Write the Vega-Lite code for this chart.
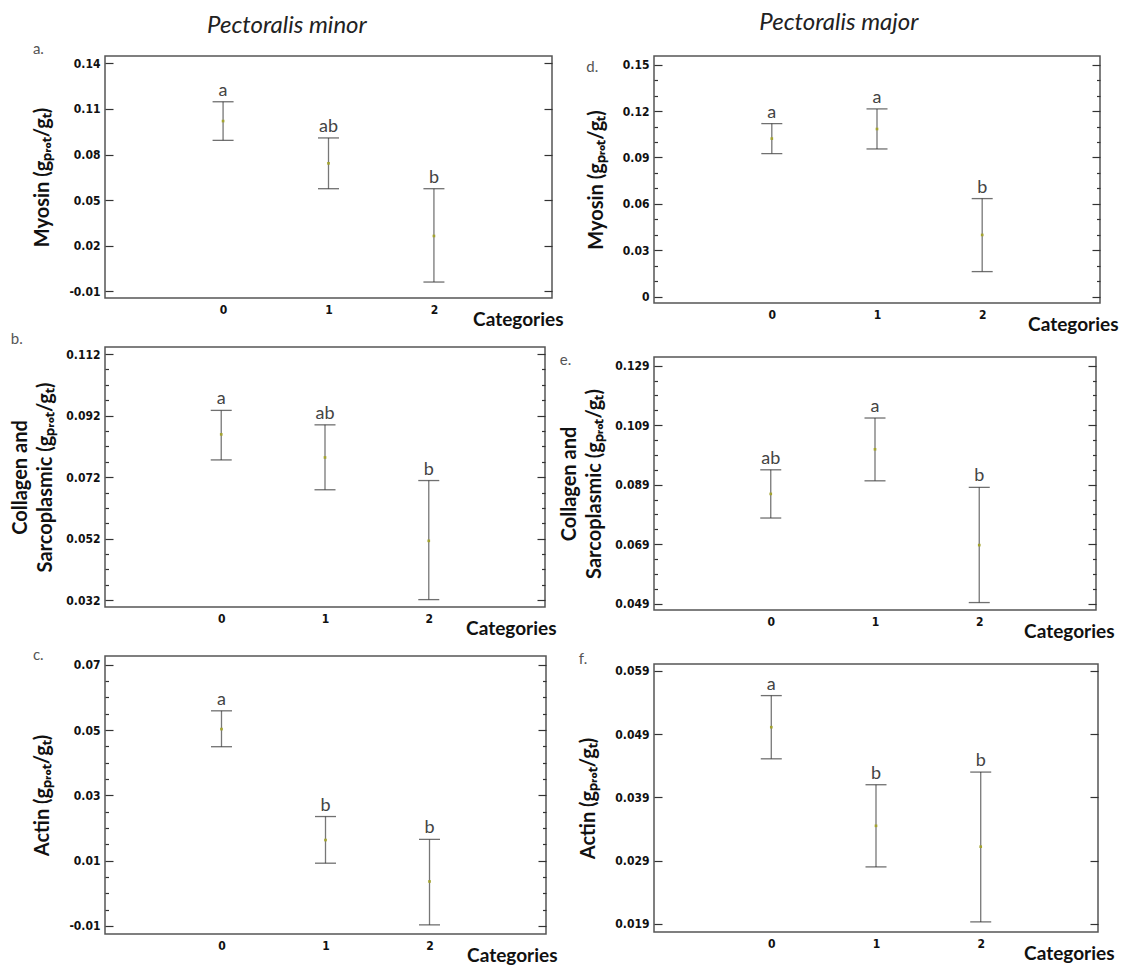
{
  "$schema": "https://vega.github.io/schema/vega-lite/v6.json",
  "background": "white",
  "padding": {"left": 10, "top": 11, "right": 5, "bottom": 5},
  "config": {
    "view": {"stroke": "#555", "strokeWidth": 1.5},
    "axis": {"grid": false, "domain": false}
  },
  "datasets": {
    "pts": [
      {"panel": "a", "cat": 0, "mean": 0.102, "lo": 0.0893, "hi": 0.1147, "letter": "a"},
      {"panel": "a", "cat": 1, "mean": 0.0742, "lo": 0.0575, "hi": 0.0909, "letter": "ab"},
      {"panel": "a", "cat": 2, "mean": 0.0264, "lo": -0.0039, "hi": 0.0575, "letter": "b"},
      {"panel": "b", "cat": 0, "mean": 0.0859, "lo": 0.0776, "hi": 0.0937, "letter": "a"},
      {"panel": "b", "cat": 1, "mean": 0.0784, "lo": 0.0679, "hi": 0.089, "letter": "ab"},
      {"panel": "b", "cat": 2, "mean": 0.0513, "lo": 0.0322, "hi": 0.0709, "letter": "b"},
      {"panel": "c", "cat": 0, "mean": 0.0503, "lo": 0.0449, "hi": 0.0559, "letter": "a"},
      {"panel": "c", "cat": 1, "mean": 0.0163, "lo": 0.0092, "hi": 0.0235, "letter": "b"},
      {"panel": "c", "cat": 2, "mean": 0.0036, "lo": -0.0097, "hi": 0.0165, "letter": "b"},
      {"panel": "d", "cat": 0, "mean": 0.1022, "lo": 0.0925, "hi": 0.1119, "letter": "a"},
      {"panel": "d", "cat": 1, "mean": 0.1084, "lo": 0.0955, "hi": 0.1214, "letter": "a"},
      {"panel": "d", "cat": 2, "mean": 0.0399, "lo": 0.0162, "hi": 0.0634, "letter": "b"},
      {"panel": "e", "cat": 0, "mean": 0.0859, "lo": 0.0778, "hi": 0.094, "letter": "ab"},
      {"panel": "e", "cat": 1, "mean": 0.1009, "lo": 0.0903, "hi": 0.1114, "letter": "a"},
      {"panel": "e", "cat": 2, "mean": 0.0687, "lo": 0.0494, "hi": 0.0881, "letter": "b"},
      {"panel": "f", "cat": 0, "mean": 0.0501, "lo": 0.0451, "hi": 0.0551, "letter": "a"},
      {"panel": "f", "cat": 1, "mean": 0.0345, "lo": 0.028, "hi": 0.041, "letter": "b"},
      {"panel": "f", "cat": 2, "mean": 0.0312, "lo": 0.0193, "hi": 0.043, "letter": "b"}
    ]
  },
  "spacing": -5,
  "hconcat": [
    {
      "title": {"text": "Pectoralis minor", "font": "Lato", "fontSize": 24, "fontStyle": "italic", "fontWeight": "normal", "color": "#222", "anchor": "middle", "frame": "bounds", "offset": 3},
      "bounds": "flush",
      "spacing": 49,
      "vconcat": [
        {
          "width": 447, "height": 242,
          "title": {"text": "a.", "font": "Lato", "fontSize": 15, "fontWeight": "normal", "color": "#555", "anchor": "start", "frame": "bounds", "offset": -1},
          "data": {"name": "pts"},
          "transform": [{"filter": "datum.panel === 'a'"}],
          "encoding": {"x": {"field": "cat", "type": "quantitative", "scale": {"domain": [-1.12, 3.12], "nice": false, "zero": false},
            "axis": {"values": [0, 1, 2], "format": "d", "ticks": false, "labelFont": "Liberation Sans Narrow, DejaVu Sans Condensed", "labelFontWeight": "bold", "labelFontSize": 12, "labelColor": "#111", "labelPadding": 6, "title": "Categories", "titleFont": "Lato", "titleFontSize": 19, "titleFontWeight": "bold", "titleColor": "#111", "titleAlign": "right", "titleBaseline": "alphabetic", "titleX": 458, "titleY": 27}}},
          "layer": [
            {"mark": {"type": "rule", "color": "#777", "strokeWidth": 1.3},
             "encoding": {"y": {"field": "lo", "type": "quantitative", "scale": {"domain": [-0.0144, 0.1448], "nice": false, "zero": false},
               "axis": {"orient": "left", "values": [-0.01, 0.02, 0.05, 0.08, 0.11, 0.14], "labelExpr": "datum.value < 0 ? '-' + format(-datum.value, '.2f') : format(datum.value, '.2f')", "ticks": false, "labelFont": "Liberation Sans Narrow, DejaVu Sans Condensed", "labelFontWeight": "bold", "labelFontSize": 12, "labelColor": "#111", "labelPadding": 5, "title": "Myosin (gₚᵣₒₜ/gₜ)", "titleFont": "Lato", "titleFontSize": 20, "titleFontWeight": "bold", "titleColor": "#111", "titlePadding": 16}},
               "y2": {"field": "hi"}}},
            {"mark": {"type": "tick", "orient": "horizontal", "size": 21, "thickness": 1.3, "color": "#333"},
             "encoding": {"y": {"field": "lo", "type": "quantitative", "scale": {"domain": [-0.0144, 0.1448], "nice": false, "zero": false},
               "axis": {"orient": "left", "values": [-0.01, 0.02, 0.05, 0.08, 0.11, 0.14], "labels": false, "ticks": true, "tickSize": 8, "tickColor": "#333", "tickWidth": 1.2, "offset": -8, "title": null}}}},
            {"mark": {"type": "tick", "orient": "horizontal", "size": 21, "thickness": 1.3, "color": "#333"},
             "encoding": {"y": {"field": "hi", "type": "quantitative", "scale": {"domain": [-0.0144, 0.1448], "nice": false, "zero": false},
               "axis": {"orient": "right", "values": [-0.01, 0.02, 0.05, 0.08, 0.11, 0.14], "labels": false, "ticks": true, "tickSize": 8, "tickColor": "#333", "tickWidth": 1.2, "offset": -8, "title": null}}}},
            {"mark": {"type": "point", "filled": true, "shape": "square", "size": 7, "color": "#a3a32e", "opacity": 1},
             "encoding": {"y": {"field": "mean", "type": "quantitative", "scale": {"domain": [-0.0144, 0.1448], "nice": false, "zero": false}, "axis": null}}},
            {"mark": {"type": "text", "font": "Lato", "fontSize": 18, "color": "#444", "baseline": "alphabetic", "dy": -6},
             "encoding": {"y": {"field": "hi", "type": "quantitative", "scale": {"domain": [-0.0144, 0.1448], "nice": false, "zero": false}, "axis": null}, "text": {"field": "letter"}}}
          ],
          "resolve": {"axis": {"y": "independent"}}
        },
        {
          "width": 440, "height": 260,
          "title": {"text": "b.", "font": "Lato", "fontSize": 15, "fontWeight": "normal", "color": "#555", "anchor": "start", "frame": "bounds", "offset": 0},
          "data": {"name": "pts"},
          "transform": [{"filter": "datum.panel === 'b'"}],
          "encoding": {"x": {"field": "cat", "type": "quantitative", "scale": {"domain": [-1.12, 3.12], "nice": false, "zero": false},
            "axis": {"values": [0, 1, 2], "format": "d", "ticks": false, "labelFont": "Liberation Sans Narrow, DejaVu Sans Condensed", "labelFontWeight": "bold", "labelFontSize": 12, "labelColor": "#111", "labelPadding": 6, "title": "Categories", "titleFont": "Lato", "titleFontSize": 19, "titleFontWeight": "bold", "titleColor": "#111", "titleAlign": "right", "titleBaseline": "alphabetic", "titleX": 451, "titleY": 27}}},
          "layer": [
            {"mark": {"type": "rule", "color": "#777", "strokeWidth": 1.3},
             "encoding": {"y": {"field": "lo", "type": "quantitative", "scale": {"domain": [0.0298, 0.1143], "nice": false, "zero": false},
               "axis": {"orient": "left", "values": [0.032, 0.052, 0.072, 0.092, 0.112], "format": ".3f", "ticks": false, "labelFont": "Liberation Sans Narrow, DejaVu Sans Condensed", "labelFontWeight": "bold", "labelFontSize": 12, "labelColor": "#111", "labelPadding": 5, "title": ["Collagen and", "Sarcoplasmic (gₚᵣₒₜ/gₜ)"], "titleLineHeight": 25, "titleFont": "Lato", "titleFontSize": 20, "titleFontWeight": "bold", "titleColor": "#111", "titlePadding": 10}},
               "y2": {"field": "hi"}}},
            {"mark": {"type": "tick", "orient": "horizontal", "size": 21, "thickness": 1.3, "color": "#333"},
             "encoding": {"y": {"field": "lo", "type": "quantitative", "scale": {"domain": [0.0298, 0.1143], "nice": false, "zero": false},
               "axis": {"orient": "left", "values": [0.032, 0.052, 0.072, 0.092, 0.112], "labels": false, "ticks": true, "tickSize": 8, "tickColor": "#333", "tickWidth": 1.2, "offset": -8, "title": null}}}},
            {"mark": {"type": "tick", "orient": "horizontal", "size": 21, "thickness": 1.3, "color": "#333"},
             "encoding": {"y": {"field": "hi", "type": "quantitative", "scale": {"domain": [0.0298, 0.1143], "nice": false, "zero": false},
               "axis": {"orient": "right", "values": [0.032, 0.052, 0.072, 0.092, 0.112], "labels": false, "ticks": true, "tickSize": 8, "tickColor": "#333", "tickWidth": 1.2, "offset": -8, "title": null}}}},
            {"mark": {"type": "point", "filled": true, "shape": "square", "size": 7, "color": "#a3a32e", "opacity": 1},
             "encoding": {"y": {"field": "mean", "type": "quantitative", "scale": {"domain": [0.0298, 0.1143], "nice": false, "zero": false},
               "axis": {"orient": "left", "values": [0.037, 0.042, 0.047, 0.057, 0.062, 0.067, 0.077, 0.082, 0.087, 0.097, 0.102, 0.107], "labels": false, "ticks": true, "tickSize": 3.5, "tickColor": "#333", "tickWidth": 1.2, "offset": -3.5, "title": null}}}},
            {"mark": {"type": "text", "font": "Lato", "fontSize": 18, "color": "#444", "baseline": "alphabetic", "dy": -6},
             "encoding": {"y": {"field": "hi", "type": "quantitative", "scale": {"domain": [0.0298, 0.1143], "nice": false, "zero": false},
               "axis": {"orient": "right", "values": [0.037, 0.042, 0.047, 0.057, 0.062, 0.067, 0.077, 0.082, 0.087, 0.097, 0.102, 0.107], "labels": false, "ticks": true, "tickSize": 3.5, "tickColor": "#333", "tickWidth": 1.2, "offset": -3.5, "title": null}}, "text": {"field": "letter"}}}
          ],
          "resolve": {"axis": {"y": "independent"}}
        },
        {
          "width": 441, "height": 278,
          "title": {"text": "c.", "font": "Lato", "fontSize": 15, "fontWeight": "normal", "color": "#555", "anchor": "start", "frame": "bounds", "offset": -7},
          "data": {"name": "pts"},
          "transform": [{"filter": "datum.panel === 'c'"}],
          "encoding": {"x": {"field": "cat", "type": "quantitative", "scale": {"domain": [-1.12, 3.12], "nice": false, "zero": false},
            "axis": {"values": [0, 1, 2], "format": "d", "ticks": false, "labelFont": "Liberation Sans Narrow, DejaVu Sans Condensed", "labelFontWeight": "bold", "labelFontSize": 12, "labelColor": "#111", "labelPadding": 6, "title": "Categories", "titleFont": "Lato", "titleFontSize": 19, "titleFontWeight": "bold", "titleColor": "#111", "titleAlign": "right", "titleBaseline": "alphabetic", "titleX": 452, "titleY": 27}}},
          "layer": [
            {"mark": {"type": "rule", "color": "#777", "strokeWidth": 1.3},
             "encoding": {"y": {"field": "lo", "type": "quantitative", "scale": {"domain": [-0.0125, 0.0727], "nice": false, "zero": false},
               "axis": {"orient": "left", "values": [-0.01, 0.01, 0.03, 0.05, 0.07], "labelExpr": "datum.value < 0 ? '-' + format(-datum.value, '.2f') : format(datum.value, '.2f')", "ticks": false, "labelFont": "Liberation Sans Narrow, DejaVu Sans Condensed", "labelFontWeight": "bold", "labelFontSize": 12, "labelColor": "#111", "labelPadding": 5, "title": "Actin (gₚᵣₒₜ/gₜ)", "titleFont": "Lato", "titleFontSize": 20, "titleFontWeight": "bold", "titleColor": "#111", "titlePadding": 16}},
               "y2": {"field": "hi"}}},
            {"mark": {"type": "tick", "orient": "horizontal", "size": 21, "thickness": 1.3, "color": "#333"},
             "encoding": {"y": {"field": "lo", "type": "quantitative", "scale": {"domain": [-0.0125, 0.0727], "nice": false, "zero": false},
               "axis": {"orient": "left", "values": [-0.01, 0.01, 0.03, 0.05, 0.07], "labels": false, "ticks": true, "tickSize": 8, "tickColor": "#333", "tickWidth": 1.2, "offset": -8, "title": null}}}},
            {"mark": {"type": "tick", "orient": "horizontal", "size": 21, "thickness": 1.3, "color": "#333"},
             "encoding": {"y": {"field": "hi", "type": "quantitative", "scale": {"domain": [-0.0125, 0.0727], "nice": false, "zero": false},
               "axis": {"orient": "right", "values": [-0.01, 0.01, 0.03, 0.05, 0.07], "labels": false, "ticks": true, "tickSize": 8, "tickColor": "#333", "tickWidth": 1.2, "offset": -8, "title": null}}}},
            {"mark": {"type": "point", "filled": true, "shape": "square", "size": 7, "color": "#a3a32e", "opacity": 1},
             "encoding": {"y": {"field": "mean", "type": "quantitative", "scale": {"domain": [-0.0125, 0.0727], "nice": false, "zero": false},
               "axis": {"orient": "left", "values": [-0.005, 0, 0.005, 0.015, 0.02, 0.025, 0.035, 0.04, 0.045, 0.055, 0.06, 0.065], "labels": false, "ticks": true, "tickSize": 3.5, "tickColor": "#333", "tickWidth": 1.2, "offset": -3.5, "title": null}}}},
            {"mark": {"type": "text", "font": "Lato", "fontSize": 18, "color": "#444", "baseline": "alphabetic", "dy": -6},
             "encoding": {"y": {"field": "hi", "type": "quantitative", "scale": {"domain": [-0.0125, 0.0727], "nice": false, "zero": false},
               "axis": {"orient": "right", "values": [-0.005, 0, 0.005, 0.015, 0.02, 0.025, 0.035, 0.04, 0.045, 0.055, 0.06, 0.065], "labels": false, "ticks": true, "tickSize": 3.5, "tickColor": "#333", "tickWidth": 1.2, "offset": -3.5, "title": null}}, "text": {"field": "letter"}}}
          ],
          "resolve": {"axis": {"y": "independent"}}
        }
      ]
    },
    {
      "title": {"text": "Pectoralis major", "font": "Lato", "fontSize": 24, "fontStyle": "italic", "fontWeight": "normal", "color": "#222", "anchor": "middle", "frame": "bounds", "offset": 20},
      "bounds": "flush",
      "spacing": 54,
      "vconcat": [
        {
          "width": 446, "height": 247,
          "title": {"text": "d.", "font": "Lato", "fontSize": 15, "fontWeight": "normal", "color": "#555", "anchor": "start", "frame": "bounds", "offset": -19},
          "data": {"name": "pts"},
          "transform": [{"filter": "datum.panel === 'd'"}],
          "encoding": {"x": {"field": "cat", "type": "quantitative", "scale": {"domain": [-1.12, 3.12], "nice": false, "zero": false},
            "axis": {"values": [0, 1, 2], "format": "d", "ticks": false, "labelFont": "Liberation Sans Narrow, DejaVu Sans Condensed", "labelFontWeight": "bold", "labelFontSize": 12, "labelColor": "#111", "labelPadding": 6, "title": "Categories", "titleFont": "Lato", "titleFontSize": 19, "titleFontWeight": "bold", "titleColor": "#111", "titleAlign": "right", "titleBaseline": "alphabetic", "titleX": 464, "titleY": 27}}},
          "layer": [
            {"mark": {"type": "rule", "color": "#777", "strokeWidth": 1.3},
             "encoding": {"y": {"field": "lo", "type": "quantitative", "scale": {"domain": [-0.0041, 0.1556], "nice": false, "zero": false},
               "axis": {"orient": "left", "values": [0, 0.03, 0.06, 0.09, 0.12, 0.15], "labelExpr": "datum.value == 0 ? '0' : format(datum.value, '.2f')", "ticks": false, "labelFont": "Liberation Sans Narrow, DejaVu Sans Condensed", "labelFontWeight": "bold", "labelFontSize": 12, "labelColor": "#111", "labelPadding": 5, "title": "Myosin (gₚᵣₒₜ/gₜ)", "titleFont": "Lato", "titleFontSize": 20, "titleFontWeight": "bold", "titleColor": "#111", "titlePadding": 16}},
               "y2": {"field": "hi"}}},
            {"mark": {"type": "tick", "orient": "horizontal", "size": 21, "thickness": 1.3, "color": "#333"},
             "encoding": {"y": {"field": "lo", "type": "quantitative", "scale": {"domain": [-0.0041, 0.1556], "nice": false, "zero": false},
               "axis": {"orient": "left", "values": [0, 0.03, 0.06, 0.09, 0.12, 0.15], "labels": false, "ticks": true, "tickSize": 8, "tickColor": "#333", "tickWidth": 1.2, "offset": -8, "title": null}}}},
            {"mark": {"type": "tick", "orient": "horizontal", "size": 21, "thickness": 1.3, "color": "#333"},
             "encoding": {"y": {"field": "hi", "type": "quantitative", "scale": {"domain": [-0.0041, 0.1556], "nice": false, "zero": false},
               "axis": {"orient": "right", "values": [0, 0.03, 0.06, 0.09, 0.12, 0.15], "labels": false, "ticks": true, "tickSize": 8, "tickColor": "#333", "tickWidth": 1.2, "offset": -8, "title": null}}}},
            {"mark": {"type": "point", "filled": true, "shape": "square", "size": 7, "color": "#a3a32e", "opacity": 1},
             "encoding": {"y": {"field": "mean", "type": "quantitative", "scale": {"domain": [-0.0041, 0.1556], "nice": false, "zero": false},
               "axis": {"orient": "left", "values": [0.01, 0.02, 0.04, 0.05, 0.07, 0.08, 0.1, 0.11, 0.13, 0.14], "labels": false, "ticks": true, "tickSize": 3.5, "tickColor": "#333", "tickWidth": 1.2, "offset": -3.5, "title": null}}}},
            {"mark": {"type": "text", "font": "Lato", "fontSize": 18, "color": "#444", "baseline": "alphabetic", "dy": -6},
             "encoding": {"y": {"field": "hi", "type": "quantitative", "scale": {"domain": [-0.0041, 0.1556], "nice": false, "zero": false},
               "axis": {"orient": "right", "values": [0.01, 0.02, 0.04, 0.05, 0.07, 0.08, 0.1, 0.11, 0.13, 0.14], "labels": false, "ticks": true, "tickSize": 3.5, "tickColor": "#333", "tickWidth": 1.2, "offset": -3.5, "title": null}}, "text": {"field": "letter"}}}
          ],
          "resolve": {"axis": {"y": "independent"}}
        },
        {
          "width": 442, "height": 253,
          "title": {"text": "e.", "font": "Lato", "fontSize": 15, "fontWeight": "normal", "color": "#555", "anchor": "start", "frame": "bounds", "offset": -11},
          "data": {"name": "pts"},
          "transform": [{"filter": "datum.panel === 'e'"}],
          "encoding": {"x": {"field": "cat", "type": "quantitative", "scale": {"domain": [-1.12, 3.12], "nice": false, "zero": false},
            "axis": {"values": [0, 1, 2], "format": "d", "ticks": false, "labelFont": "Liberation Sans Narrow, DejaVu Sans Condensed", "labelFontWeight": "bold", "labelFontSize": 12, "labelColor": "#111", "labelPadding": 6, "title": "Categories", "titleFont": "Lato", "titleFontSize": 19, "titleFontWeight": "bold", "titleColor": "#111", "titleAlign": "right", "titleBaseline": "alphabetic", "titleX": 460, "titleY": 27}}},
          "layer": [
            {"mark": {"type": "rule", "color": "#777", "strokeWidth": 1.3},
             "encoding": {"y": {"field": "lo", "type": "quantitative", "scale": {"domain": [0.0469, 0.1319], "nice": false, "zero": false},
               "axis": {"orient": "left", "values": [0.049, 0.069, 0.089, 0.109, 0.129], "format": ".3f", "ticks": false, "labelFont": "Liberation Sans Narrow, DejaVu Sans Condensed", "labelFontWeight": "bold", "labelFontSize": 12, "labelColor": "#111", "labelPadding": 5, "title": ["Collagen and", "Sarcoplasmic (gₚᵣₒₜ/gₜ)"], "titleLineHeight": 25, "titleFont": "Lato", "titleFontSize": 20, "titleFontWeight": "bold", "titleColor": "#111", "titlePadding": 10}},
               "y2": {"field": "hi"}}},
            {"mark": {"type": "tick", "orient": "horizontal", "size": 21, "thickness": 1.3, "color": "#333"},
             "encoding": {"y": {"field": "lo", "type": "quantitative", "scale": {"domain": [0.0469, 0.1319], "nice": false, "zero": false},
               "axis": {"orient": "left", "values": [0.049, 0.069, 0.089, 0.109, 0.129], "labels": false, "ticks": true, "tickSize": 8, "tickColor": "#333", "tickWidth": 1.2, "offset": -8, "title": null}}}},
            {"mark": {"type": "tick", "orient": "horizontal", "size": 21, "thickness": 1.3, "color": "#333"},
             "encoding": {"y": {"field": "hi", "type": "quantitative", "scale": {"domain": [0.0469, 0.1319], "nice": false, "zero": false},
               "axis": {"orient": "right", "values": [0.049, 0.069, 0.089, 0.109, 0.129], "labels": false, "ticks": true, "tickSize": 8, "tickColor": "#333", "tickWidth": 1.2, "offset": -8, "title": null}}}},
            {"mark": {"type": "point", "filled": true, "shape": "square", "size": 7, "color": "#a3a32e", "opacity": 1},
             "encoding": {"y": {"field": "mean", "type": "quantitative", "scale": {"domain": [0.0469, 0.1319], "nice": false, "zero": false},
               "axis": {"orient": "left", "values": [0.054, 0.059, 0.064, 0.074, 0.079, 0.084, 0.094, 0.099, 0.104, 0.114, 0.119, 0.124], "labels": false, "ticks": true, "tickSize": 3.5, "tickColor": "#333", "tickWidth": 1.2, "offset": -3.5, "title": null}}}},
            {"mark": {"type": "text", "font": "Lato", "fontSize": 18, "color": "#444", "baseline": "alphabetic", "dy": -6},
             "encoding": {"y": {"field": "hi", "type": "quantitative", "scale": {"domain": [0.0469, 0.1319], "nice": false, "zero": false},
               "axis": {"orient": "right", "values": [0.054, 0.059, 0.064, 0.074, 0.079, 0.084, 0.094, 0.099, 0.104, 0.114, 0.119, 0.124], "labels": false, "ticks": true, "tickSize": 3.5, "tickColor": "#333", "tickWidth": 1.2, "offset": -3.5, "title": null}}, "text": {"field": "letter"}}}
          ],
          "resolve": {"axis": {"y": "independent"}}
        },
        {
          "width": 444, "height": 268,
          "title": {"text": "f.", "font": "Lato", "fontSize": 15, "fontWeight": "normal", "color": "#555", "anchor": "start", "frame": "bounds", "offset": -3},
          "data": {"name": "pts"},
          "transform": [{"filter": "datum.panel === 'f'"}],
          "encoding": {"x": {"field": "cat", "type": "quantitative", "scale": {"domain": [-1.12, 3.12], "nice": false, "zero": false},
            "axis": {"values": [0, 1, 2], "format": "d", "ticks": false, "labelFont": "Liberation Sans Narrow, DejaVu Sans Condensed", "labelFontWeight": "bold", "labelFontSize": 12, "labelColor": "#111", "labelPadding": 6, "title": "Categories", "titleFont": "Lato", "titleFontSize": 19, "titleFontWeight": "bold", "titleColor": "#111", "titleAlign": "right", "titleBaseline": "alphabetic", "titleX": 460, "titleY": 27}}},
          "layer": [
            {"mark": {"type": "rule", "color": "#777", "strokeWidth": 1.3},
             "encoding": {"y": {"field": "lo", "type": "quantitative", "scale": {"domain": [0.0177, 0.0601], "nice": false, "zero": false},
               "axis": {"orient": "left", "values": [0.019, 0.029, 0.039, 0.049, 0.059], "format": ".3f", "ticks": false, "labelFont": "Liberation Sans Narrow, DejaVu Sans Condensed", "labelFontWeight": "bold", "labelFontSize": 12, "labelColor": "#111", "labelPadding": 5, "title": "Actin (gₚᵣₒₜ/gₜ)", "titleFont": "Lato", "titleFontSize": 20, "titleFontWeight": "bold", "titleColor": "#111", "titlePadding": 16}},
               "y2": {"field": "hi"}}},
            {"mark": {"type": "tick", "orient": "horizontal", "size": 21, "thickness": 1.3, "color": "#333"},
             "encoding": {"y": {"field": "lo", "type": "quantitative", "scale": {"domain": [0.0177, 0.0601], "nice": false, "zero": false},
               "axis": {"orient": "left", "values": [0.019, 0.029, 0.039, 0.049, 0.059], "labels": false, "ticks": true, "tickSize": 8, "tickColor": "#333", "tickWidth": 1.2, "offset": -8, "title": null}}}},
            {"mark": {"type": "tick", "orient": "horizontal", "size": 21, "thickness": 1.3, "color": "#333"},
             "encoding": {"y": {"field": "hi", "type": "quantitative", "scale": {"domain": [0.0177, 0.0601], "nice": false, "zero": false},
               "axis": {"orient": "right", "values": [0.019, 0.029, 0.039, 0.049, 0.059], "labels": false, "ticks": true, "tickSize": 8, "tickColor": "#333", "tickWidth": 1.2, "offset": -8, "title": null}}}},
            {"mark": {"type": "point", "filled": true, "shape": "square", "size": 7, "color": "#a3a32e", "opacity": 1},
             "encoding": {"y": {"field": "mean", "type": "quantitative", "scale": {"domain": [0.0177, 0.0601], "nice": false, "zero": false}, "axis": null}}},
            {"mark": {"type": "text", "font": "Lato", "fontSize": 18, "color": "#444", "baseline": "alphabetic", "dy": -6},
             "encoding": {"y": {"field": "hi", "type": "quantitative", "scale": {"domain": [0.0177, 0.0601], "nice": false, "zero": false}, "axis": null}, "text": {"field": "letter"}}}
          ],
          "resolve": {"axis": {"y": "independent"}}
        }
      ]
    }
  ]
}
